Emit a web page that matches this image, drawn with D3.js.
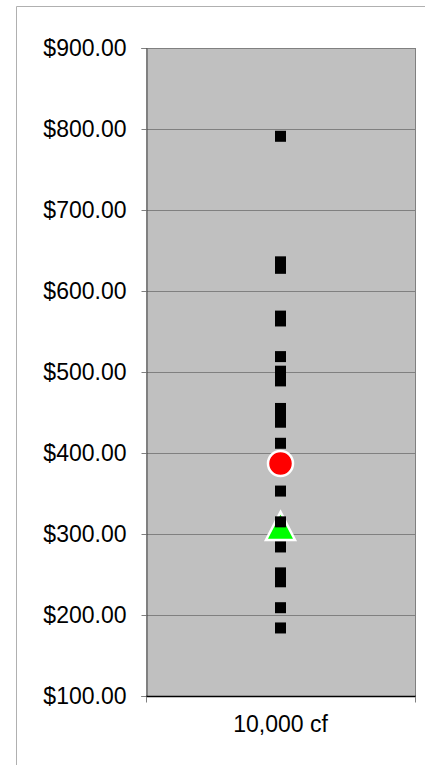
<!DOCTYPE html>
<html>
<head>
<meta charset="utf-8">
<script src="https://cdn.jsdelivr.net/npm/d3@7"></script>
<style>
  html, body { margin: 0; padding: 0; background: #fff; }
  svg { display: block; }
</style>
</head>
<body>
<svg id="chart" width="425" height="765"></svg>
<script>
// ---- data ----
const categories = ["10,000 cf"];
const costValues = [791, 636, 628, 569, 563, 519, 501, 489, 455, 446, 438, 412, 353, 315, 284, 252, 241, 209, 184];
const meanValue = [387];
const medianValue = [310];
const yTicks = [100, 200, 300, 400, 500, 600, 700, 800, 900];

// ---- layout ----
const svg = d3.select("#chart");
const plot = { left: 146, right: 415, top: 48, bottom: 696 };
const font = "'Liberation Sans', Arial, sans-serif";

const x = d3.scaleBand().domain(categories).range([plot.left, plot.right]);
const y = d3.scaleLinear().domain([100, 900]).range([plot.bottom, plot.top]);

// outer frame (left and top edges)
svg.append("path")
  .attr("d", "M16.5,765 L16.5,6.5 L425,6.5")
  .attr("fill", "none").attr("stroke", "#b0b0b0").attr("stroke-width", 1);

// plot background
svg.append("rect")
  .attr("x", plot.left).attr("y", plot.top)
  .attr("width", plot.right - plot.left).attr("height", plot.bottom - plot.top)
  .attr("fill", "#c0c0c0");

// gridlines
svg.append("g").selectAll("line").data(yTicks.filter(d => d > 100))
  .join("line")
  .attr("x1", plot.left).attr("x2", plot.right)
  .attr("y1", d => Math.round(y(d)) + 0.5).attr("y2", d => Math.round(y(d)) + 0.5)
  .attr("stroke", "#808080").attr("stroke-width", 1);

// right border of plot
svg.append("line")
  .attr("x1", plot.right + 0.5).attr("x2", plot.right + 0.5)
  .attr("y1", plot.top).attr("y2", plot.bottom)
  .attr("stroke", "#808080");

// y axis
const yAxis = svg.append("g")
  .attr("transform", `translate(${plot.left + 0.5},0)`)
  .call(d3.axisLeft(y).tickValues(yTicks).tickSize(5).tickPadding(15)
    .tickFormat(d => "$" + d3.format(".2f")(d)));
yAxis.select(".domain").attr("stroke", "#404040");
yAxis.selectAll(".tick line").attr("stroke", "#808080");
yAxis.selectAll("text").attr("font-family", font).attr("font-size", 23).attr("fill", "#000");

// x axis
const xAxis = svg.append("g")
  .attr("transform", `translate(0,${plot.bottom + 0.5})`)
  .call(d3.axisBottom(x).tickSize(0).tickPadding(19));
xAxis.select(".domain").remove();
xAxis.selectAll("text").attr("font-family", font).attr("font-size", 23).attr("fill", "#000");
xAxis.append("line").attr("x1", plot.left).attr("x2", plot.right + 1)
  .attr("y1", 0).attr("y2", 0).attr("stroke", "#000").attr("stroke-width", 1.5);
xAxis.selectAll(".edge").data(x.range())
  .join("line").attr("class", "edge")
  .attr("x1", d => d + 0.5).attr("x2", d => d + 0.5)
  .attr("y1", 0).attr("y2", 6)
  .attr("stroke", "#808080");

const cx = x(categories[0]) + x.bandwidth() / 2;

// median triangle
svg.append("g").selectAll("path").data(medianValue)
  .join("path")
  .attr("d", d => {
    const cy = y(d);
    return `M${cx},${cy - 14} L${cx + 14.5},${cy + 14} L${cx - 14.5},${cy + 14} Z`;
  })
  .attr("fill", "#00ff00").attr("stroke", "#fff").attr("stroke-width", 2.5)
  .attr("stroke-linejoin", "miter");

// individual values: black squares
const s = 11;
svg.append("g").selectAll("rect").data(costValues)
  .join("rect")
  .attr("x", cx - s / 2).attr("y", d => y(d) - s / 2)
  .attr("width", s).attr("height", s)
  .attr("fill", "#000");

// mean circle
svg.append("g").selectAll("circle").data(meanValue)
  .join("circle")
  .attr("cx", cx).attr("cy", d => y(d))
  .attr("r", 12.5)
  .attr("fill", "#ff0000").attr("stroke", "#fff").attr("stroke-width", 2.5);
</script>
</body>
</html>
